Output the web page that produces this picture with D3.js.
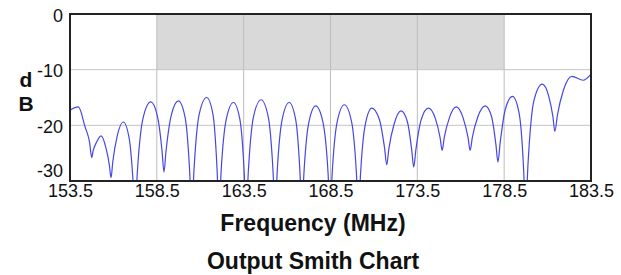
<!DOCTYPE html>
<html>
<head>
<meta charset="utf-8">
<script src="https://cdn.jsdelivr.net/npm/d3@7"></script>
<style>
  body { margin: 0; background: #fff; }
  text { font-family: "Liberation Sans", Arial, sans-serif; fill: #111; }
</style>
</head>
<body>
<div id="chart"></div>
<script>
// axis ticks
const xTicks = [153.5, 158.5, 163.5, 168.5, 173.5, 178.5, 183.5];
const yTicks = [0, -10, -20, -30];

// shaded spec window (MHz, dB)
const specFreq = [158.5, 178.5];
const specDb = [0, -10];

// response (nulls below -30 run off the bottom)
const freqMHz = [
  153.50, 153.98, 154.37, 154.63, 154.75, 154.83, 155.02, 155.29, 155.58, 155.77,
  155.86, 155.97, 156.22, 156.57, 156.91, 157.14, 157.24, 157.38, 157.70, 158.15,
  158.53, 158.80, 158.91, 159.03, 159.33, 159.74, 160.13, 160.39, 160.51, 160.64,
  160.94, 161.37, 161.73, 161.97, 162.08, 162.20, 162.50, 162.91, 163.28, 163.53,
  163.64, 163.77, 164.07, 164.50, 164.91, 165.19, 165.31, 165.43, 165.72, 166.12,
  166.49, 166.74, 166.85, 166.97, 167.25, 167.65, 168.07, 168.36, 168.48, 168.60,
  168.89, 169.30, 169.71, 169.99, 170.11, 170.23, 170.50, 170.88, 171.31, 171.61,
  171.74, 171.86, 172.16, 172.57, 172.93, 173.18, 173.29, 173.42, 173.72, 174.14,
  174.54, 174.81, 174.93, 175.05, 175.34, 175.74, 176.14, 176.42, 176.54, 176.67,
  176.98, 177.41, 177.78, 178.03, 178.14, 178.27, 178.56, 178.98, 179.36, 179.62,
  179.73, 179.87, 180.21, 180.69, 181.06, 181.31, 181.42, 181.57, 181.91, 182.40,
  183.05, 183.50
];
const responseDb = [
  -17.3, -16.7, -20.3, -23.1, -25.8, -24.6, -23.1, -21.9, -24.2, -27.2,
  -29.4, -26.4, -21.9, -19.4, -22.4, -30.5, -36.0, -28.3, -18.8, -15.8,
  -18.3, -24.6, -28.4, -24.6, -18.2, -15.6, -18.6, -28.2, -36.0, -28.0,
  -18.0, -15.0, -18.0, -28.0, -36.0, -28.4, -18.9, -15.9, -18.9, -28.4,
  -36.0, -28.2, -18.4, -15.4, -18.4, -28.2, -36.0, -28.4, -18.9, -15.9,
  -18.9, -28.4, -36.0, -28.6, -19.5, -16.5, -19.5, -28.6, -36.0, -28.5,
  -19.3, -16.3, -19.3, -28.5, -36.0, -28.7, -19.9, -16.9, -18.9, -24.0,
  -27.1, -24.2, -19.8, -17.4, -19.4, -24.5, -27.5, -24.3, -19.0, -16.9,
  -18.8, -22.2, -24.5, -22.2, -18.7, -16.7, -18.7, -22.2, -24.5, -22.1,
  -18.5, -16.5, -18.5, -23.6, -26.6, -23.1, -17.2, -14.8, -17.8, -27.9,
  -36.0, -27.1, -15.6, -12.6, -14.7, -18.5, -21.1, -18.1, -13.7, -11.2,
  -11.9, -10.8
];

const width = 621, height = 275;
const margin = { top: 14, right: 30, bottom: 94, left: 70 };

const svg = d3.select("#chart")
  .append("svg")
    .attr("width", width)
    .attr("height", height);

const x = d3.scaleLinear()
  .domain([153.5, 183.5])
  .range([margin.left, width - margin.right]);

const y = d3.scaleLinear()
  .domain([-30, 0])
  .range([height - margin.bottom, margin.top]);

// spec shading
svg.append("rect")
  .attr("x", x(specFreq[0]))
  .attr("y", y(specDb[0]))
  .attr("width", x(specFreq[1]) - x(specFreq[0]))
  .attr("height", y(specDb[1]) - y(specDb[0]))
  .attr("fill", "#d9d9d9");

// grid
svg.append("g")
  .selectAll("line")
  .data(xTicks.slice(1, -1))
  .join("line")
    .attr("x1", d => x(d)).attr("x2", d => x(d))
    .attr("y1", y(0)).attr("y2", y(-30))
    .attr("stroke", "#bdbdbd")
    .attr("stroke-width", 1);

svg.append("g")
  .selectAll("line")
  .data(yTicks.slice(1, -1))
  .join("line")
    .attr("x1", x(153.5)).attr("x2", x(183.5))
    .attr("y1", d => y(d)).attr("y2", d => y(d))
    .attr("stroke", "#c4c4c4")
    .attr("stroke-width", 1);

// clip the trace to the plot box
svg.append("clipPath")
  .attr("id", "plotClip")
  .append("rect")
    .attr("x", x(153.5))
    .attr("y", y(0))
    .attr("width", x(183.5) - x(153.5))
    .attr("height", y(-30) - y(0));

const line = d3.line()
  .x(d => x(d[0]))
  .y(d => y(d[1]))
  .curve(d3.curveMonotoneX);

svg.append("path")
  .datum(d3.zip(freqMHz, responseDb))
  .attr("clip-path", "url(#plotClip)")
  .attr("d", line)
  .attr("fill", "none")
  .attr("stroke", "#4646e6")
  .attr("stroke-width", 1.2)
  .attr("stroke-linejoin", "round");

// frame
svg.append("rect")
  .attr("x", x(153.5))
  .attr("y", y(0))
  .attr("width", x(183.5) - x(153.5))
  .attr("height", y(-30) - y(0))
  .attr("fill", "none")
  .attr("stroke", "#222")
  .attr("stroke-width", 2);

// axes (labels only), plain hyphen for the minus sign
const xAxis = svg.append("g")
  .attr("transform", "translate(0," + y(-30) + ")")
  .call(d3.axisBottom(x).tickValues(xTicks).tickSize(0).tickPadding(3)
    .tickFormat(d => d.toFixed(1)));
xAxis.select(".domain").remove();
xAxis.selectAll("text")
  .style("font-size", "18px")
  .style("font-family", "'Liberation Sans', Arial, sans-serif")
  .attr("fill", "#222");

const yAxis = svg.append("g")
  .attr("transform", "translate(" + x(153.5) + ",0)")
  .call(d3.axisLeft(y).tickValues(yTicks).tickSize(0).tickPadding(7)
    .tickFormat(d => String(d)));
yAxis.select(".domain").remove();
yAxis.selectAll("text")
  .attr("dy", d => d === -30 ? "-0.25em" : "0.4em")
  .style("font-size", "18px")
  .style("font-family", "'Liberation Sans', Arial, sans-serif")
  .attr("fill", "#222");

// axis titles: "d" stacked over "B"
svg.append("text")
  .attr("x", 26).attr("y", 87)
  .attr("text-anchor", "middle")
  .style("font-size", "21px").style("font-weight", "bold")
  .text("d");
svg.append("text")
  .attr("x", 26).attr("y", 111)
  .attr("text-anchor", "middle")
  .style("font-size", "21px").style("font-weight", "bold")
  .text("B");

svg.append("text")
  .attr("x", 313).attr("y", 231)
  .attr("text-anchor", "middle")
  .style("font-size", "23px").style("font-weight", "bold")
  .text("Frequency (MHz)");

svg.append("text")
  .attr("x", 313).attr("y", 269)
  .attr("text-anchor", "middle")
  .style("font-size", "23px").style("font-weight", "bold")
  .text("Output Smith Chart");
</script>
</body>
</html>
